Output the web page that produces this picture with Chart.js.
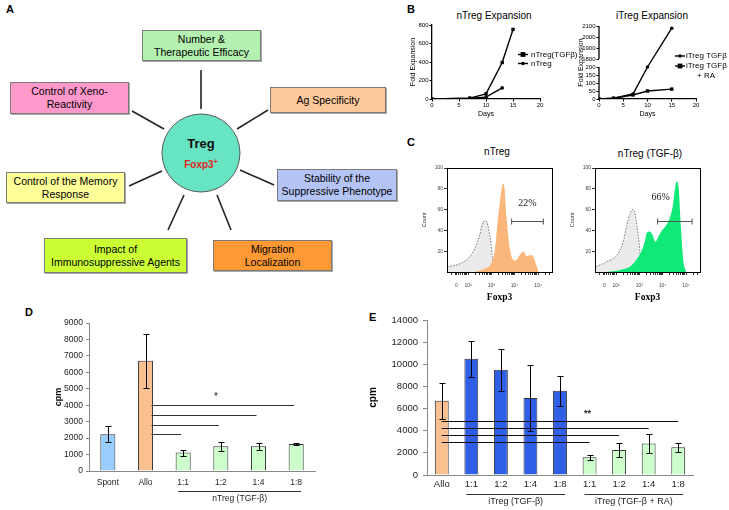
<!DOCTYPE html>
<html>
<head>
<meta charset="utf-8">
<script src="https://cdn.jsdelivr.net/npm/chart.js@4.4.1/dist/chart.umd.min.js"></script>
<style>
  body { margin: 0; width: 729px; height: 510px; background: #fff; position: relative; overflow: hidden;
         font-family: 'Liberation Sans', Arial, sans-serif; color: #000; }
  canvas { position: absolute; }
  .letter { position: absolute; font-weight: bold; font-size: 11px; line-height: 1; }
  .ttl { position: absolute; font-size: 10px; line-height: 1; white-space: nowrap; transform: translate(-50%, -50%); }
  .box { position: absolute; box-sizing: border-box; border: 1px solid #7a7a7a; box-shadow: 1px 1px 0 #a8a8a8;
         font-size: 10.5px; line-height: 13px; text-align: center; display: flex; align-items: center; justify-content: center; }
</style>
</head>
<body>
<div class="letter" style="left:6px;top:4px">A</div>
<div class="letter" style="left:407px;top:4px">B</div>
<div class="letter" style="left:407px;top:137px">C</div>
<div class="letter" style="left:25px;top:307px">D</div>
<div class="letter" style="left:369px;top:312px">E</div>

<div class="ttl" style="left:494px;top:16px">nTreg Expansion</div>
<div class="ttl" style="left:652px;top:16px">iTreg Expansion</div>
<div class="ttl" style="left:497px;top:152px">nTreg</div>
<div class="ttl" style="left:650px;top:154px">nTreg (TGF-β)</div>

<svg style="position:absolute;left:0;top:0" width="400" height="280">
  <g stroke="#222" stroke-width="1.6">
    <line x1="201" y1="70" x2="201" y2="109"/>
    <line x1="132" y1="111" x2="164" y2="129"/>
    <line x1="237" y1="129" x2="268" y2="110"/>
    <line x1="129" y1="186" x2="162" y2="171"/>
    <line x1="240" y1="170" x2="274" y2="185"/>
    <line x1="184" y1="195" x2="168" y2="230"/>
    <line x1="217" y1="195" x2="231" y2="230"/>
  </g>
  <circle cx="201" cy="153" r="39" fill="#67e4c2" stroke="#5a5a5a" stroke-width="1"/>
  <text x="201" y="148" text-anchor="middle" font-size="13" font-weight="bold" fill="#111">Treg</text>
  <text x="201" y="168" text-anchor="middle" font-size="10" font-weight="bold" fill="#e02222">Foxp3<tspan font-size="7" dy="-4">+</tspan></text>
</svg>

<script>
// ---- panel A boxes ----
const aTexts  = ['Number &<br>Therapeutic Efficacy', 'Control of Xeno-<br>Reactivity', 'Ag Specificity',
                 'Control of the Memory<br>Response', 'Stability of the<br>Suppressive Phenotype',
                 'Impact of<br>Immunosuppressive Agents', 'Migration<br>Localization'];
const aColors = ['#b4f0b0', '#ff99cc', '#fdc99a', '#ffff99', '#b4c4f4', '#ccff33', '#ff9933'];

// ---- panel B: expansion (fold) ----
const bLeftDaysA  = [0, 7, 10, 13, 15];
const bLeftTgf    = [0, 10, 55, 395, 752];
const bLeftDaysB  = [0, 7, 10, 13];
const bLeftPlain  = [0, 8, 20, 120];

const bRightDays  = [0, 3, 7, 10, 15];
const bRightTgf   = [0, 5, 31, 200, 2080];
const bRightRa    = [0, 5, 25, 50, 62];
const bRightLowTicks  = [0, 50, 100, 150, 200];
const bRightHighTicks = [1800, 1900, 2000, 2100];

// ---- panel C: Foxp3 histograms (x in log10 units) ----
const cTickPos    = [1.5, 2, 3, 4, 5];
const cTickLabels = ['0', '10²', '10³', '10⁴', '10⁵'];
const cCountTicks = [20, 40, 60, 80, 100];

const cLeftCtrlX  = [1.11, 1.66, 2.09, 2.30, 2.51, 2.64, 2.77, 2.85, 2.98, 3.06, 3.11];
const cLeftCtrlY  = [5, 8, 15, 23, 36, 48, 49, 45, 28, 11, 0];
const cLeftX      = [2.30, 2.80, 3.01, 3.15, 3.25, 3.36, 3.45, 3.50, 3.56, 3.65, 3.76, 3.90, 4.04, 4.21, 4.38, 4.52, 4.64, 4.75, 4.89, 5.03];
const cLeftY      = [0, 4, 9, 21, 44, 66, 81, 85, 81, 53, 28, 13, 11, 16, 20, 15, 16, 16, 9, 0];

const cRightCtrlX = [1.15, 1.61, 2.03, 2.31, 2.45, 2.59, 2.71, 2.81, 2.90, 2.99, 3.05, 3.09];
const cRightCtrlY = [5, 10, 16, 29, 44, 55, 60, 57, 44, 28, 12, 0];
const cRightX     = [1.61, 2.17, 2.59, 2.88, 3.09, 3.23, 3.33, 3.44, 3.56, 3.69, 3.79, 3.94, 4.15, 4.29, 4.43, 4.54, 4.60, 4.68, 4.78, 4.88, 5.00];
const cRightY     = [0, 2, 5, 12, 20, 29, 38, 39, 36, 29, 33, 39, 45, 51, 63, 82, 87, 82, 44, 12, 0];

// ---- panel D ----
const dCats   = ['Spont', 'Allo', '1:1', '1:2', '1:4', '1:8'];
const dVals   = [2230, 6700, 1120, 1500, 1500, 1640];
const dErr    = [490, 1650, 180, 290, 200, 50];
const dColors = ['#99ccff', '#fac090', '#ccffcc', '#ccffcc', '#ccffcc', '#ccffcc'];
const dSigTo    = [5, 4, 3, 2];
const dSigLevel = [4000, 3400, 2800, 2230];
const dGroups = [{ from: 2, to: 5, text: 'nTreg (TGF-β)' }];

// ---- panel E ----
const eCats   = ['Allo', '1:1', '1:2', '1:4', '1:8', '1:1', '1:2', '1:4', '1:8'];
const eVals   = [6700, 10500, 9500, 6950, 7600, 1600, 2250, 2850, 2500];
const eErr    = [1600, 1630, 1900, 3000, 1380, 200, 630, 860, 430];
const eColors = ['#fac090', '#2f5fe6', '#2f5fe6', '#2f5fe6', '#2f5fe6', '#ccffcc', '#ccffcc', '#ccffcc', '#ccffcc'];
const eSigTo    = [8, 7, 6, 5];
const eSigLevel = [4900, 4270, 3585, 2950];
const eGroups = [{ from: 1, to: 4, text: 'iTreg (TGF-β)' }, { from: 5, to: 8, text: 'iTreg (TGF-β + RA)' }];

// panel A layout
const aBoxes = [[142, 30, 119, 31], [10, 82, 119, 32], [270, 87, 116, 26], [6, 172, 119, 31],
                [277, 169, 120, 32], [44, 238, 143, 35], [213, 240, 119, 31]];
aTexts.forEach((t, i) => {
  const d = document.createElement('div');
  const [l, tp, w, h] = aBoxes[i];
  d.className = 'box';
  d.style.cssText = `left:${l}px;top:${tp}px;width:${w}px;height:${h}px;background:${aColors[i]}`;
  d.innerHTML = '<span>' + t + '</span>';
  document.body.appendChild(d);
});

Chart.defaults.font.family = "'Liberation Sans', Arial, sans-serif";
Chart.defaults.color = '#000';
Chart.defaults.animation = false;
Chart.defaults.responsive = false;
Chart.defaults.plugins.legend.display = false;
Chart.defaults.plugins.tooltip.enabled = false;

function canvasAt(left, top, w, h) {
  const c = document.createElement('canvas');
  c.width = w; c.height = h;
  c.style.left = left + 'px'; c.style.top = top + 'px';
  c.style.width = w + 'px'; c.style.height = h + 'px';
  document.body.appendChild(c);
  return c;
}
const fixW = w => s => { s.width = w; };
const fixH = h => s => { s.height = h; };
const pts = (xs, ys) => xs.map((x, i) => ({ x: x, y: ys[i] }));
const plain = v => String(v);

// --- little plugins ---
function miniLegend(rows) {
  return {
    id: 'miniLegend',
    afterDraw(chart) {
      const ctx = chart.ctx;
      ctx.save();
      ctx.font = "8px 'Liberation Sans', Arial";
      ctx.textBaseline = 'middle';
      ctx.fillStyle = '#000'; ctx.strokeStyle = '#000'; ctx.lineWidth = 1.4;
      rows.forEach(r => {
        if (r.ds !== undefined) {
          const ds = chart.data.datasets[r.ds];
          const rad = ds.pointRadius;
          ctx.beginPath(); ctx.moveTo(r.x - 5, r.y); ctx.lineTo(r.x + 5, r.y); ctx.stroke();
          if (ds.pointStyle === 'rect') ctx.fillRect(r.x - rad, r.y - rad, 2 * rad, 2 * rad);
          else { ctx.beginPath(); ctx.arc(r.x, r.y, rad, 0, Math.PI * 2); ctx.fill(); }
        }
        ctx.fillText(r.text, r.tx, r.y);
      });
      ctx.restore();
    }
  };
}

// axis line of the broken y axis, drawn in two pieces
function brokenAxis(segments) {
  return {
    id: 'brokenAxis',
    afterDraw(chart) {
      const { ctx, chartArea, scales: { y } } = chart;
      ctx.save(); ctx.strokeStyle = '#000'; ctx.lineWidth = 1.3;
      segments.forEach(([a, b]) => {
        ctx.beginPath();
        ctx.moveTo(chartArea.left, y.getPixelForValue(a));
        ctx.lineTo(chartArea.left, y.getPixelForValue(b));
        ctx.stroke();
      });
      ctx.restore();
    }
  };
}

const frame = {
  id: 'frame',
  afterDraw(chart) {
    const { ctx, chartArea: a } = chart;
    ctx.save(); ctx.strokeStyle = '#000'; ctx.lineWidth = 1;
    ctx.strokeRect(Math.round(a.left) + 0.5, Math.round(a.top) + 0.5, Math.round(a.right - a.left), Math.round(a.bottom - a.top));
    ctx.restore();
  }
};

function gate(g) {
  return {
    id: 'gate',
    afterDatasetsDraw(chart) {
      const { ctx, scales: { x, y } } = chart;
      const x1 = x.getPixelForValue(g.from), x2 = x.getPixelForValue(g.to);
      const yy = Math.round(y.getPixelForValue(g.level)) + 0.5;
      ctx.save(); ctx.strokeStyle = '#555'; ctx.lineWidth = 1;
      ctx.beginPath();
      ctx.moveTo(x1, yy); ctx.lineTo(x2, yy);
      ctx.moveTo(x1, yy - 3); ctx.lineTo(x1, yy + 3);
      ctx.moveTo(x2, yy - 3); ctx.lineTo(x2, yy + 3);
      ctx.stroke();
      ctx.font = "10px 'Liberation Serif', 'Times New Roman', serif";
      ctx.fillStyle = '#222'; ctx.textAlign = 'center'; ctx.textBaseline = 'middle';
      ctx.fillText(g.text, x.getPixelForValue(g.textAt), y.getPixelForValue(g.textLevel));
      ctx.restore();
    }
  };
}

function errorBars(err) {
  return {
    id: 'errorBars',
    afterDatasetsDraw(chart) {
      const { ctx, scales: { y } } = chart;
      const vals = chart.data.datasets[0].data;
      ctx.save(); ctx.strokeStyle = '#000'; ctx.lineWidth = 1;
      chart.getDatasetMeta(0).data.forEach((bar, i) => {
        const x = Math.round(bar.x) + 0.5;
        const y1 = Math.round(y.getPixelForValue(vals[i] + err[i])) + 0.5;
        const y2 = Math.round(y.getPixelForValue(vals[i] - err[i])) + 0.5;
        ctx.beginPath();
        ctx.moveTo(x, y1); ctx.lineTo(x, y2);
        ctx.moveTo(x - 3, y1); ctx.lineTo(x + 3, y1);
        ctx.moveTo(x - 3, y2); ctx.lineTo(x + 3, y2);
        ctx.stroke();
      });
      ctx.restore();
    }
  };
}

function sigLines(o) {
  return {
    id: 'sigLines',
    afterDatasetsDraw(chart) {
      const { ctx, scales: { x, y } } = chart;
      ctx.save(); ctx.strokeStyle = o.color; ctx.lineWidth = 1;
      const x0 = x.getPixelForValue(o.from) + o.startDx;
      o.to.forEach((t, i) => {
        const yy = Math.round(y.getPixelForValue(o.levels[i])) + 0.5;
        ctx.beginPath(); ctx.moveTo(x0, yy); ctx.lineTo(x.getPixelForValue(t) + o.endDx, yy); ctx.stroke();
      });
      ctx.font = o.starFont; ctx.fillStyle = '#222'; ctx.textAlign = 'center'; ctx.textBaseline = 'middle';
      ctx.fillText(o.star, x.getPixelForValue(o.starAt), y.getPixelForValue(o.starLevel));
      ctx.restore();
    }
  };
}

function groupLabels(groups, lineDy, textDy, font) {
  return {
    id: 'groupLabels',
    afterDraw(chart) {
      const { ctx, chartArea, scales: { x } } = chart;
      ctx.save(); ctx.strokeStyle = '#333'; ctx.lineWidth = 1;
      ctx.font = font; ctx.fillStyle = '#222'; ctx.textAlign = 'center'; ctx.textBaseline = 'middle';
      groups.forEach(g => {
        const x1 = x.getPixelForValue(g.from) - 5, x2 = x.getPixelForValue(g.to) + 5;
        const yy = Math.round(chartArea.bottom + lineDy) + 0.5;
        ctx.beginPath(); ctx.moveTo(x1, yy); ctx.lineTo(x2, yy); ctx.stroke();
        ctx.fillText(g.text, (x1 + x2) / 2, chartArea.bottom + textDy);
      });
      ctx.restore();
    }
  };
}

// ================= B left =================
const tinyGrid = { drawOnChartArea: false, tickLength: 2.5, color: '#000', lineWidth: 1 };
const tinyBorder = { color: '#000', width: 1.3 };

new Chart(canvasAt(395, 18, 190, 105), {
  type: 'line',
  data: {
    datasets: [
      { data: pts(bLeftDaysA, bLeftTgf), borderColor: '#000', backgroundColor: '#000', borderWidth: 1.4,
        pointStyle: 'rect', pointRadius: 2.4, pointBorderWidth: 0, tension: 0 },
      { data: pts(bLeftDaysB, bLeftPlain), borderColor: '#000', backgroundColor: '#000', borderWidth: 1.4,
        pointStyle: 'circle', pointRadius: 1.8, pointBorderWidth: 0, tension: 0 }
    ]
  },
  options: {
    layout: { padding: { top: 7, right: 45, left: 0, bottom: 0 } },
    scales: {
      x: { type: 'linear', min: 0, max: 20, afterFit: fixH(24),
           ticks: { stepSize: 5, font: { size: 6 }, padding: 0, maxRotation: 0 },
           grid: tinyGrid, border: tinyBorder,
           title: { display: true, text: 'Days', font: { size: 7 }, padding: { top: 0, bottom: 5 } } },
      y: { min: 0, max: 800, afterFit: fixW(37),
           ticks: { stepSize: 200, font: { size: 6 }, padding: 1 },
           grid: tinyGrid, border: tinyBorder,
           title: { display: true, text: 'Fold Expansion', font: { size: 7 }, padding: { top: 14, bottom: 0 } } }
    }
  },
  plugins: [miniLegend([
    { ds: 0, x: 128, y: 36.5, tx: 136, text: 'nTreg(TGFβ)' },
    { ds: 1, x: 128, y: 45.5, tx: 136, text: 'nTreg' }
  ])]
});

// ================= B right (broken axis) =================
const bGap = 50, bK = 0.6875;
const brk = v => (v <= 200 ? v : 200 + bGap + (v - 1800) * bK);
const bRightTicks = bRightLowTicks.concat(bRightHighTicks);

new Chart(canvasAt(565, 18, 164, 105), {
  type: 'line',
  data: {
    datasets: [
      { data: pts(bRightDays, bRightTgf.map(brk)), borderColor: '#000', backgroundColor: '#000', borderWidth: 1.4,
        pointStyle: 'circle', pointRadius: 1.8, pointBorderWidth: 0, tension: 0 },
      { data: pts(bRightDays, bRightRa.map(brk)), borderColor: '#000', backgroundColor: '#000', borderWidth: 1.4,
        pointStyle: 'rect', pointRadius: 2.4, pointBorderWidth: 0, tension: 0 }
    ]
  },
  options: {
    layout: { padding: { top: 8, right: 33, left: 0, bottom: 0 } },
    scales: {
      x: { type: 'linear', min: 0, max: 20, afterFit: fixH(24),
           ticks: { stepSize: 5, font: { size: 6 }, padding: 0, maxRotation: 0 },
           grid: tinyGrid, border: tinyBorder,
           title: { display: true, text: 'Days', font: { size: 7 }, padding: { top: 0, bottom: 5 } } },
      y: { min: 0, max: brk(2100), afterFit: fixW(34),
           afterBuildTicks: s => { s.ticks = bRightTicks.map(v => ({ value: brk(v) })); },
           ticks: { font: { size: 6 }, padding: 1, autoSkip: false, callback: (v, i) => String(bRightTicks[i]) },
           grid: tinyGrid, border: { display: false },
           title: { display: true, text: 'Fold Expansion', font: { size: 7 }, padding: { top: 12, bottom: 0 } } }
    }
  },
  plugins: [brokenAxis([[0, 200], [200 + bGap, brk(2100)]]), miniLegend([
    { ds: 0, x: 115, y: 38, tx: 121, text: 'iTreg TGFβ' },
    { ds: 1, x: 115, y: 48, tx: 121, text: 'iTreg TGFβ' },
    { x: 0, y: 58, tx: 132, text: '+ RA' }
  ])]
});

// ================= C histograms =================
const cMinor = [];
for (let n = 1; n <= 5; n++) for (let k = 2; k <= 9; k++) {
  const u = n + Math.log10(k);
  if (u > 1.12 && u < 5.6) cMinor.push(u);
}
const cTicksAll = cTickPos.concat(cMinor).sort((a, b) => a - b);
const cLabelFor = v => { const i = cTickPos.findIndex(p => Math.abs(p - v) < 1e-6); return i < 0 ? '' : cTickLabels[i]; };

function histChart(left, ctrlX, ctrlY, posX, posY, color, g) {
  new Chart(canvasAt(left, 160, 145, 145), {
    type: 'line',
    data: {
      datasets: [
        { data: pts(posX, posY), borderWidth: 0, borderColor: color, backgroundColor: color, fill: 'origin',
          pointRadius: 0, cubicInterpolationMode: 'monotone' },
        { data: pts(ctrlX, ctrlY), borderWidth: 0.8, borderColor: '#555', borderDash: [1.5, 1.5],
          backgroundColor: '#ebebeb', fill: 'origin', pointRadius: 0, cubicInterpolationMode: 'monotone' }
      ]
    },
    options: {
      layout: { padding: { top: 8, right: 8, left: 0, bottom: 0 } },
      scales: {
        x: { type: 'linear', min: 1.1, max: 5.6, afterFit: fixH(33),
             afterBuildTicks: s => { s.ticks = cTicksAll.map(v => ({ value: v })); },
             ticks: { autoSkip: false, maxRotation: 0, font: { size: 5 }, color: '#444', padding: 8,
                      callback: (v, i) => cLabelFor(cTicksAll[i]) },
             grid: { drawOnChartArea: false, tickLength: 3, color: '#333' },
             border: { color: '#000', width: 1 },
             title: { display: true, text: 'Foxp3', font: { family: "'Liberation Serif', 'Times New Roman', serif", size: 9.5, weight: 'bold' },
                      padding: { top: 0, bottom: 2 } } },
        y: { min: 0, max: 100, afterFit: fixW(32),
             afterBuildTicks: s => { s.ticks = cCountTicks.map(v => ({ value: v })); },
             ticks: { font: { size: 5 }, color: '#444', padding: 1 },
             grid: { drawOnChartArea: false, tickLength: 3, color: '#333' },
             border: { color: '#000', width: 1 },
             title: { display: true, text: 'Count', font: { size: 5.5 }, color: '#333', padding: { top: 6, bottom: 0 } } }
      }
    },
    plugins: [frame, gate(g)]
  });
}
histChart(415, cLeftCtrlX, cLeftCtrlY, cLeftX, cLeftY, '#fbb77b',
  { from: 3.87, to: 5.23, level: 49, text: '22%', textAt: 4.55, textLevel: 66 });
histChart(563, cRightCtrlX, cRightCtrlY, cRightX, cRightY, '#10e878',
  { from: 3.78, to: 5.26, level: 49, text: '66%', textAt: 3.91, textLevel: 72 });

// ================= D =================
new Chart(canvasAt(52, 300, 278, 210), {
  type: 'bar',
  data: { labels: dCats, datasets: [{ data: dVals, backgroundColor: dColors, borderColor: '#333', borderWidth: 1,
                                      barPercentage: 0.4, categoryPercentage: 1 }] },
  options: {
    layout: { padding: { top: 23, right: 15, left: 0, bottom: 0 } },
    scales: {
      x: { afterFit: fixH(39), grid: { display: false, drawTicks: false }, border: { color: '#888' },
           ticks: { font: { size: 8.5 }, padding: 7, color: '#222', maxRotation: 0 } },
      y: { min: 0, max: 9000, afterFit: fixW(37),
           ticks: { stepSize: 1000, font: { size: 8.5 }, padding: 3, color: '#222', callback: plain },
           grid: { drawOnChartArea: false, tickLength: 3, color: '#888' }, border: { color: '#888' },
           title: { display: true, text: 'cpm', font: { size: 9, weight: 'bold' }, padding: { top: 1, bottom: 0 } } }
    }
  },
  plugins: [errorBars(dErr),
    sigLines({ from: 1, to: dSigTo, levels: dSigLevel, startDx: 6, endDx: -2, color: '#333',
               star: '*', starAt: 2.87, starLevel: 4500, starFont: "10px 'Liberation Sans', Arial" }),
    groupLabels(dGroups, 20, 28, "8.5px 'Liberation Sans', Arial")]
});

// ================= E =================
new Chart(canvasAt(363, 305, 345, 205), {
  type: 'bar',
  data: { labels: eCats, datasets: [{ data: eVals, backgroundColor: eColors, borderColor: '#333', borderWidth: 1,
                                      barPercentage: 0.47, categoryPercentage: 1 }] },
  options: {
    layout: { padding: { top: 15, right: 15, left: 0, bottom: 0 } },
    scales: {
      x: { afterFit: fixH(35), grid: { display: false, drawTicks: false }, border: { color: '#888' },
           ticks: { font: { size: 9.5 }, padding: 4, color: '#222', maxRotation: 0 } },
      y: { min: 0, max: 14000, afterFit: fixW(64),
           ticks: { stepSize: 2000, font: { size: 9.5 }, padding: 5, color: '#222', callback: plain },
           grid: { drawOnChartArea: false, tickLength: 4, color: '#888' }, border: { color: '#888' },
           title: { display: true, text: 'cpm', font: { size: 10, weight: 'bold' }, padding: { top: 4, bottom: 0 } } }
    }
  },
  plugins: [errorBars(eErr),
    sigLines({ from: 0, to: eSigTo, levels: eSigLevel, startDx: 0, endDx: 0, color: '#111',
               star: '**', starAt: 4.93, starLevel: 5510, starFont: "bold 9px 'Liberation Sans', Arial" }),
    groupLabels(eGroups, 19, 27, "9px 'Liberation Sans', Arial")]
});
</script>
</body>
</html>
